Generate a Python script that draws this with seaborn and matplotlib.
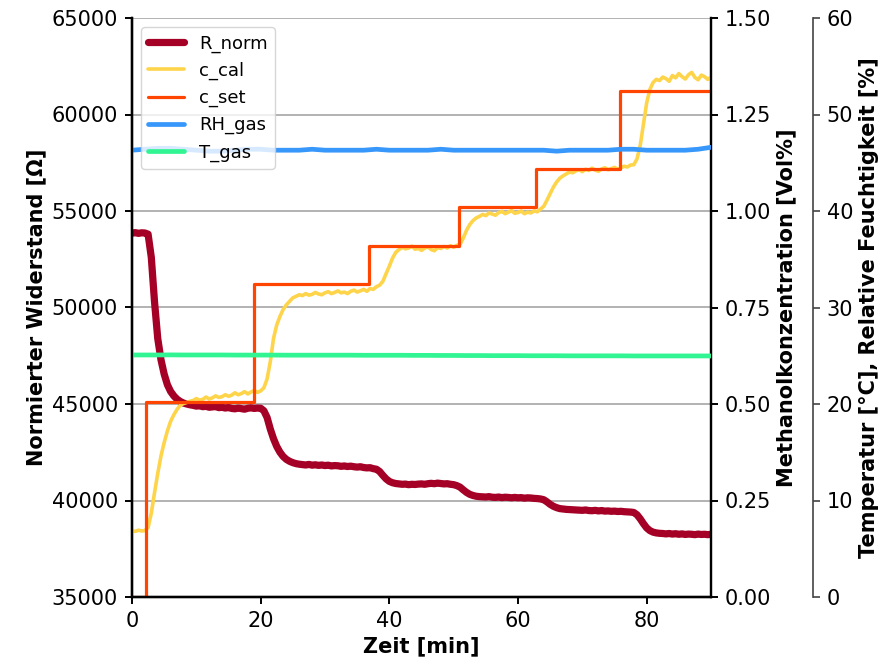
import numpy as np
import pandas as pd
import matplotlib
matplotlib.use("Agg")
import matplotlib.pyplot as plt
import seaborn as sns

# Sampling grid of the sensor log [min]
t_log = np.arange(0, 90.5, 0.5)

# Normalised sensor resistance [Ohm]
r_norm = [
    53850, 53880, 53840, 53870, 53860, 53800, 52600, 50300, 48400, 47300,
    46550, 46000, 45650, 45420, 45250, 45130, 45050, 45000, 44960, 44930,
    44890, 44910, 44860, 44880, 44830, 44850, 44870, 44810, 44830, 44790,
    44820, 44770, 44750, 44790, 44760, 44730, 44780, 44800, 44770, 44790,
    44780, 44650, 44300, 43700, 43200, 42800, 42500, 42280, 42130, 42030,
    41960, 41910, 41880, 41860, 41840, 41870, 41830, 41850, 41820, 41840,
    41810, 41830, 41790, 41810, 41800, 41770, 41790, 41760, 41780, 41750,
    41730, 41750, 41710, 41690, 41700, 41650, 41620, 41500, 41300, 41120,
    40990, 40920, 40880, 40860, 40840, 40850, 40820, 40840, 40830, 40850,
    40860, 40840, 40870, 40890, 40870, 40900, 40880, 40860, 40870, 40840,
    40820, 40770, 40690, 40550, 40420, 40320, 40260, 40220, 40200, 40190,
    40180, 40200, 40170, 40160, 40180, 40150, 40170, 40160, 40140, 40160,
    40140, 40150, 40120, 40140, 40130, 40110, 40100, 40080, 40040, 39930,
    39800, 39700, 39630, 39580, 39560, 39540, 39530, 39520, 39510, 39500,
    39490, 39510, 39480, 39470, 39490, 39460, 39480, 39450, 39460, 39440,
    39450, 39430, 39440, 39420, 39410, 39400, 39380, 39260, 39050, 38800,
    38580, 38440, 38360, 38320, 38300, 38290, 38270, 38290, 38260, 38280,
    38250, 38270, 38240, 38260, 38250, 38230, 38260, 38240, 38250, 38230,
    38250,
]

# Calibrated methanol concentration [Vol%]
c_cal = [
    0.171, 0.170, 0.173, 0.171, 0.172, 0.180, 0.217, 0.270, 0.320, 0.365,
    0.400, 0.430, 0.455, 0.472, 0.486, 0.497, 0.501, 0.504, 0.507, 0.509,
    0.514, 0.510, 0.512, 0.518, 0.513, 0.516, 0.521, 0.517, 0.519, 0.524,
    0.520, 0.523, 0.529, 0.524, 0.527, 0.532, 0.526, 0.531, 0.535, 0.530,
    0.534, 0.542, 0.565, 0.610, 0.670, 0.705, 0.727, 0.745, 0.757, 0.766,
    0.775, 0.779, 0.783, 0.781, 0.786, 0.782, 0.784, 0.789, 0.785, 0.783,
    0.788, 0.791, 0.786, 0.789, 0.793, 0.788, 0.790, 0.786, 0.792, 0.795,
    0.790, 0.793, 0.797, 0.792, 0.799, 0.797, 0.804, 0.808, 0.818, 0.838,
    0.857, 0.878, 0.893, 0.900, 0.906, 0.902, 0.904, 0.909, 0.901, 0.903,
    0.898, 0.904, 0.907, 0.900, 0.897, 0.905, 0.903, 0.908, 0.904, 0.910,
    0.906, 0.911, 0.914, 0.930, 0.950, 0.965, 0.975, 0.982, 0.986, 0.991,
    0.988, 0.995, 0.992, 0.989, 0.996, 0.999, 0.993, 0.997, 1.001, 0.994,
    0.996, 1.000, 0.993, 0.997, 0.995, 1.000, 0.998, 1.005, 1.012, 1.028,
    1.045, 1.062, 1.075, 1.085, 1.091, 1.096, 1.101, 1.099, 1.104, 1.107,
    1.102, 1.108, 1.105, 1.111, 1.106, 1.103, 1.109, 1.112, 1.107, 1.110,
    1.113, 1.108, 1.112, 1.116, 1.114, 1.119, 1.120, 1.135, 1.170, 1.225,
    1.280, 1.315, 1.333, 1.341, 1.338, 1.347, 1.343, 1.336, 1.351, 1.345,
    1.356, 1.348, 1.342, 1.353, 1.359, 1.346, 1.340, 1.352, 1.348, 1.341,
    1.347,
]

# Set-point of the gas mixing unit [Vol%]
t_set = [0.0, 2.1, 18.9, 36.8, 50.9, 62.8, 75.9, 90.0]
c_set = [0.0, 0.505, 0.81, 0.91, 1.01, 1.11, 1.31, 1.31]

# Gas temperature [degC] and relative humidity [%]
t_env = np.arange(0, 92, 2)
rh_gas = [
    46.3, 46.4, 46.5, 46.5, 46.4, 46.3, 46.2, 46.2, 46.3, 46.4,
    46.4, 46.3, 46.3, 46.3, 46.4, 46.3, 46.3, 46.3, 46.3, 46.4,
    46.3, 46.3, 46.3, 46.3, 46.4, 46.3, 46.3, 46.3, 46.3, 46.3,
    46.3, 46.3, 46.3, 46.2, 46.3, 46.3, 46.3, 46.3, 46.4, 46.4,
    46.3, 46.3, 46.3, 46.3, 46.4, 46.6,
]
t_gas = [
    25.08, 25.08, 25.08, 25.09, 25.08, 25.08, 25.08, 25.08, 25.07, 25.07,
    25.07, 25.07, 25.06, 25.06, 25.06, 25.06, 25.06, 25.06, 25.05, 25.05,
    25.05, 25.05, 25.04, 25.04, 25.03, 25.03, 25.02, 25.02, 25.01, 25.01,
    25.01, 25.00, 25.00, 25.00, 24.99, 24.99, 24.99, 24.99, 24.99, 24.98,
    24.98, 24.98, 24.98, 24.98, 24.98, 24.98,
]

log = pd.DataFrame({"t": t_log, "R_norm": r_norm, "c_cal": c_cal})
env = pd.DataFrame({"t": t_env, "RH_gas": rh_gas, "T_gas": t_gas})
setp = pd.DataFrame({"t": t_set, "c_set": c_set})

sns.set_style("ticks")
plt.rcParams.update({
    "font.family": ["DejaVu Sans"],
    "font.size": 15,
    "text.color": "black",
    "axes.labelcolor": "black",
    "axes.edgecolor": "black",
    "xtick.color": "black",
    "ytick.color": "black",
    "axes.linewidth": 1.6,
    "xtick.major.width": 1.4,
    "ytick.major.width": 1.4,
    "xtick.major.size": 5,
    "ytick.major.size": 5,
    "xtick.major.pad": 5,
    "ytick.major.pad": 5,
    "axes.labelweight": "bold",
    "axes.labelsize": 15,
    "xtick.labelsize": 15,
    "ytick.labelsize": 15,
})

fig = plt.figure(figsize=(8.88, 6.66), dpi=100)
ax = fig.add_axes([132 / 888, 69 / 666, 579 / 888, 579 / 666])
ax2 = ax.twinx()
ax3 = ax.twinx()
ax3.spines["right"].set_position(("axes", 1.1756))

col_r, col_cal, col_set = "#a50026", "#fed44a", "#ff4500"
col_rh, col_t = "#3797fb", "#30f592"

sns.lineplot(data=log, x="t", y="R_norm", ax=ax, color=col_r, lw=5.2,
             estimator=None, label="R_norm", legend=False)
sns.lineplot(data=log, x="t", y="c_cal", ax=ax2, color=col_cal, lw=2.6,
             estimator=None, label="c_cal", legend=False)
sns.lineplot(data=setp, x="t", y="c_set", ax=ax2, color=col_set, lw=2.3,
             estimator=None, drawstyle="steps-post", label="c_set", legend=False)
sns.lineplot(data=env, x="t", y="RH_gas", ax=ax3, color=col_rh, lw=3.4,
             estimator=None, label="RH_gas", legend=False)
sns.lineplot(data=env, x="t", y="T_gas", ax=ax3, color=col_t, lw=3.4,
             estimator=None, label="T_gas", legend=False)

ax.set_xlim(0, 90)
ax.set_ylim(35000, 65000)
ax.set_yticks(np.arange(35000, 65001, 5000))
ax.set_xticks([0, 20, 40, 60, 80])
ax2.set_ylim(0, 1.5)
ax2.set_yticks(np.arange(0, 1.51, 0.25))
ax2.yaxis.set_major_formatter(matplotlib.ticker.FormatStrFormatter("%.2f"))
ax3.set_ylim(0, 60)
ax3.set_yticks(np.arange(0, 61, 10))

ax.grid(axis="y", color="#a6a6a6", lw=1.2)
ax.set_axisbelow(True)

for a in (ax, ax2, ax3):
    a.spines["top"].set_visible(False)
ax3.spines["right"].set_color("#444444")
ax3.spines["right"].set_linewidth(1.2)
ax3.tick_params(axis="y", colors="#444444", labelcolor="black", width=1.2)

ax.set_xlabel("Zeit [min]")
ax.set_ylabel("Normierter Widerstand [Ω]")
ax2.set_ylabel("Methanolkonzentration [Vol%]")
ax3.set_ylabel("Temperatur [°C], Relative Feuchtigkeit [%]")

handles = []
labels = []
for a in (ax, ax2, ax3):
    h, l = a.get_legend_handles_labels()
    handles += h
    labels += l
ax3.legend(handles, labels, loc="upper left", fontsize=13, framealpha=0.8)

fig.savefig("out.png", dpi=100)
